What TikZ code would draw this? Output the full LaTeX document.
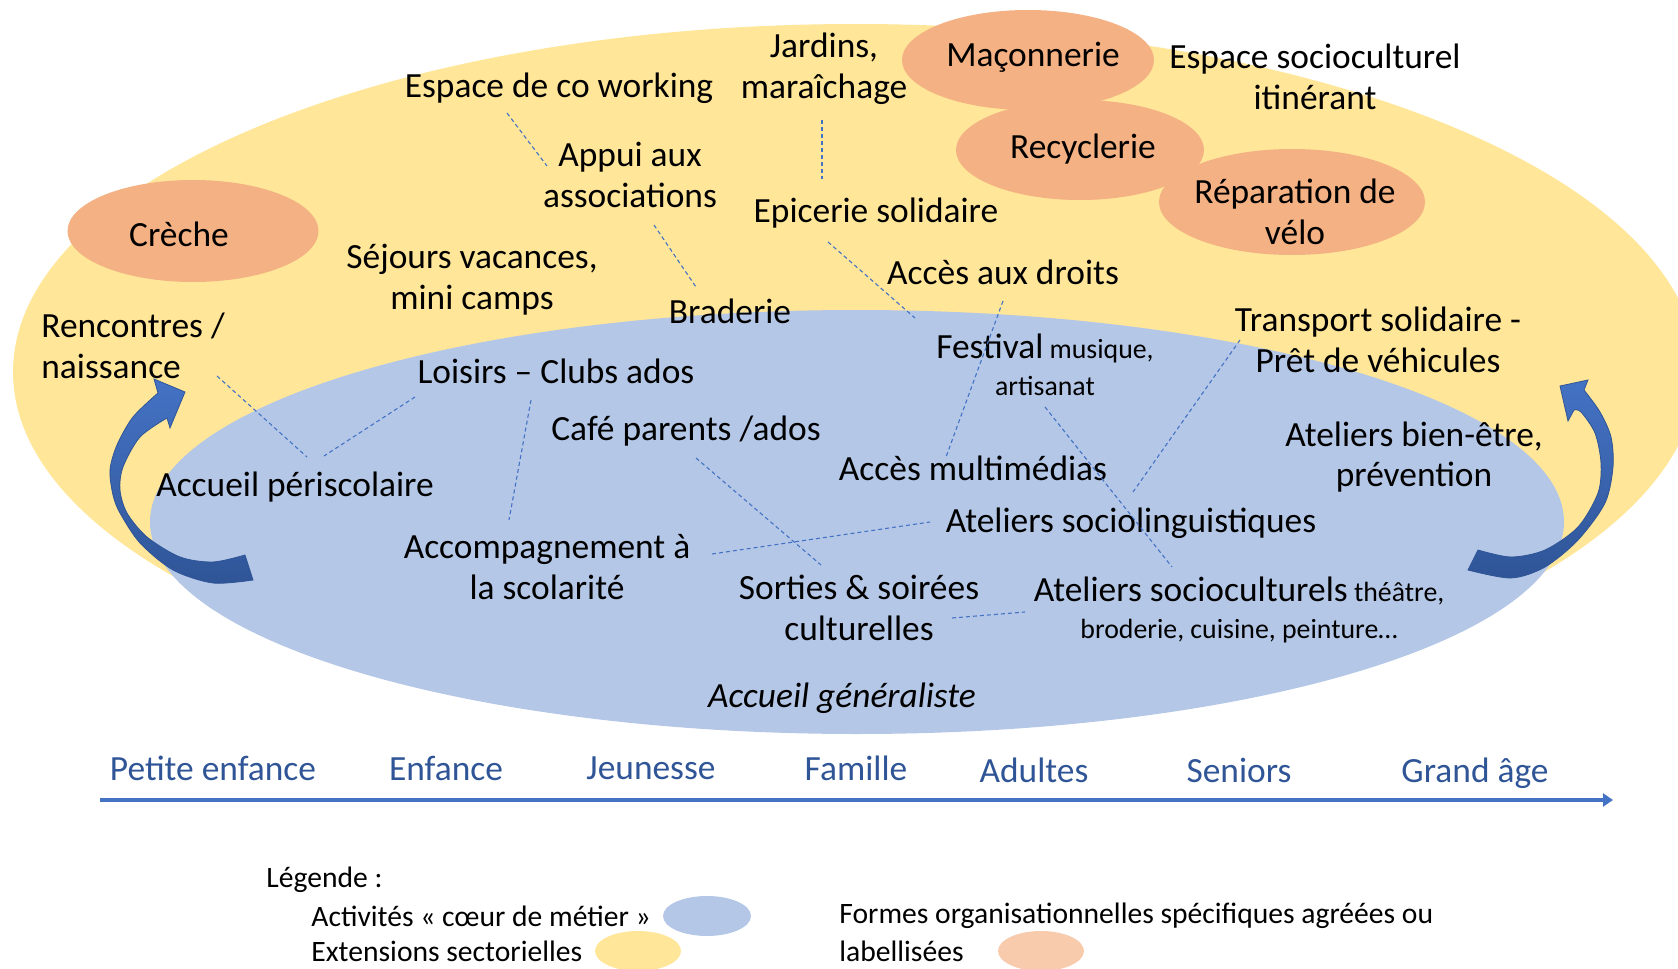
\documentclass[tikz,border=0pt]{standalone}
\usepackage{fontspec}
\setmainfont{Carlito}
\usetikzlibrary{arrows.meta}
\definecolor{yel}{HTML}{FFE699}
\definecolor{blu}{HTML}{B4C7E7}
\definecolor{ora}{HTML}{F4B183}
\definecolor{oral}{HTML}{F8CBAD}
\definecolor{arrA}{HTML}{4472C4}
\definecolor{arrB}{HTML}{2F5597}
\definecolor{agetxt}{HTML}{2F5597}
\begin{document}
\begin{tikzpicture}[x=0.5pt,y=-0.5pt,
  lbl/.style={font=\fontsize{17.7}{20.4}\selectfont, align=center, inner sep=0pt, yshift=-1pt},
  lbll/.style={font=\fontsize{17.7}{20.4}\selectfont, align=left, inner sep=0pt, anchor=west, yshift=-1pt},
  smalllbl/.style={font=\fontsize{13.9}{18.3}\selectfont, align=center, inner sep=0pt, yshift=-1pt},
  age/.style={font=\fontsize{17.7}{20.4}\selectfont, text=agetxt, inner sep=0pt},
  leg/.style={font=\fontsize{14.8}{17.7}\selectfont, align=left, inner sep=0pt, anchor=west},
  link/.style={draw=arrA, line width=0.55pt, dash pattern=on 2pt off 1.5pt},
  bigarrow/.style={top color=arrA, bottom color=arrB, draw=arrB, line width=0.4pt},
]
\useasboundingbox (0,0) rectangle (1678,969);
\clip (0,0) rectangle (1678,969);

% ---- background ellipses
\fill[yel] (855,372) ellipse [x radius=421pt, y radius=174pt];
\fill[blu] (857,522) ellipse [x radius=353.5pt, y radius=106pt];
\fill[ora] (193,231) ellipse [x radius=62.75pt, y radius=25.5pt];
\fill[ora] (1028,60) ellipse [x radius=63pt, y radius=25pt];
\fill[ora] (1292,202) ellipse [x radius=66.5pt, y radius=26.5pt];
\fill[ora] (1080,150) ellipse [x radius=62pt, y radius=25pt];

% ---- curved arrows
\shadedraw[bigarrow] (185,392) -- (154,379) --
  plot[smooth] coordinates {(158,393) (133,417) (117,445) (110,470) (113,495) (120,513) (140,543) (173,570) (213,583) (253,580)}
  -- (245,555) --
  plot[smooth] coordinates {(245,555) (213,562) (180,557) (147,537) (127,513) (120,490) (123,467) (140,437) (167,418)}
  -- (170,428) -- cycle;
\shadedraw[bigarrow] (1560,386) -- (1568,421) --
  plot[smooth] coordinates {(1574,410) (1581,412) (1595,433) (1601,463) (1598,493) (1578,527) (1545,550) (1511,557) (1478,550)}
  -- (1468,570) --
  plot[smooth] coordinates {(1468,570) (1511,578) (1545,567) (1578,540) (1605,503) (1613,467) (1611,437) (1600,412) (1584,390)}
  -- (1588,380) -- cycle;

% ---- labels
\node[lbl] (cowork) at (559,86) {Espace de co working};
\node[lbl] (jardins) at (824,67) {Jardins,\\maraîchage};
\node[lbl] (macon) at (1033,55) {Maçonnerie};
\node[lbl] (espsc) at (1315,75) {Espace socioculturel\\itinérant};
\node[lbl] (recyc) at (1083,147) {Recyclerie};
\node[lbl] (appui) at (630,173) {Appui aux\\associations};
\node[lbl] (velo) at (1295,210) {Réparation de\\vélo};
\node[lbl] (epic) at (876,211) {Epicerie solidaire};
\node[lbl] (creche) at (179,232) {Crèche};
\node[lbl] (sejours) at (472,278) {Séjours vacances,\\mini camps};
\node[lbl] (droits) at (1003,270) {Accès aux droits};
\node[lbl] (brad) at (730,309) {Braderie};
\node[lbll] (renc) at (41,344) {Rencontres /\\naissance};
\node[lbl] (transp) at (1378,338) {Transport solidaire -\\Prêt de véhicules};
\node[smalllbl] (fest) at (1045,363) {{\fontsize{17.7}{18.3}\selectfont Festival} musique,\\artisanat};
\node[lbl] (loisirs) at (556,369) {Loisirs – Clubs ados};
\node[lbl] (cafe) at (686,429) {Café parents /ados};
\node[lbl] (bienetre) at (1414,455) {Ateliers bien-être,\\prévention};
\node[lbl] (peri) at (295,485) {Accueil périscolaire};
\node[lbl] (multi) at (973,466) {Accès multimédias};
\node[lbl] (socling) at (1131,521) {Ateliers sociolinguistiques};
\node[lbl] (scol) at (547,565) {Accompagnement à\\la scolarité};
\node[lbl] (sorties) at (859,606) {Sorties \& soirées\\culturelles};
\node[smalllbl] (socc) at (1239,608) {{\fontsize{17.7}{18.3}\selectfont Ateliers socioculturels} théâtre,\\broderie, cuisine, peinture…};
\node[lbl, font=\fontsize{17.7}{20.4}\selectfont\itshape] (gen) at (842,696) {Accueil généraliste};

% ---- dashed links
\coordinate (a1) at (507,113);  \coordinate (a2) at (547,166);
\coordinate (b1) at (822,120);  \coordinate (b2) at (822,179);
\coordinate (c1) at (654,225);  \coordinate (c2) at (696,287);
\coordinate (d1) at (828,242);  \coordinate (d2) at (915,318);
\coordinate (e1) at (1003,301); \coordinate (e2) at (946,457);
\coordinate (f1) at (1045,407); \coordinate (f2) at (1172,567);
\coordinate (g1) at (1240,340); \coordinate (g2) at (1133,492);
\coordinate (h1) at (217,376);  \coordinate (h2) at (307,457);
\coordinate (i1) at (415,397);  \coordinate (i2) at (324,456);
\coordinate (j1) at (531,400);  \coordinate (j2) at (509,520);
\coordinate (k1) at (696,458);  \coordinate (k2) at (821,565);
\coordinate (l1) at (712,554);  \coordinate (l2) at (930,522);
\coordinate (m1) at (952,618);  \coordinate (m2) at (1025,612);
\foreach \p in {a,b,c,d,e,f,g,h,i,j,k,l,m} \draw[link] (\p1) -- (\p2);

% ---- age axis
\coordinate (ax0) at (100,800);
\coordinate (ax1) at (1613,800);
\draw[arrA, line width=1.65pt, -{Triangle[length=5pt,width=6.5pt]}] (ax0) -- (ax1);
\node[age] (pe) at (213,768) {Petite enfance};
\node[age] (en) at (446,768) {Enfance};
\node[age] (je) at (651,768) {Jeunesse};
\node[age] (fa) at (856,768) {Famille};
\node[age] (ad) at (1034,770) {Adultes};
\node[age] (se) at (1239,770) {Seniors};
\node[age] (ga) at (1475,773) {Grand âge};

% ---- legend
\node[leg] (legt) at (266,880) {Légende :};
\node[leg] (leg1) at (311,916) {Activités « cœur de métier »};
\node[leg] (leg2) at (311,951) {Extensions sectorielles};
\node[leg] (leg3) at (839,916) {Formes organisationnelles spécifiques agréées ou};
\node[leg] (leg4) at (839,951) {labellisées};
\fill[blu] (707,916) ellipse [x radius=22pt, y radius=10pt];
\fill[yel] (638,951) ellipse [x radius=21.5pt, y radius=10pt];
\fill[oral] (1041,951) ellipse [x radius=21.5pt, y radius=10pt];
\end{tikzpicture}
\end{document}
